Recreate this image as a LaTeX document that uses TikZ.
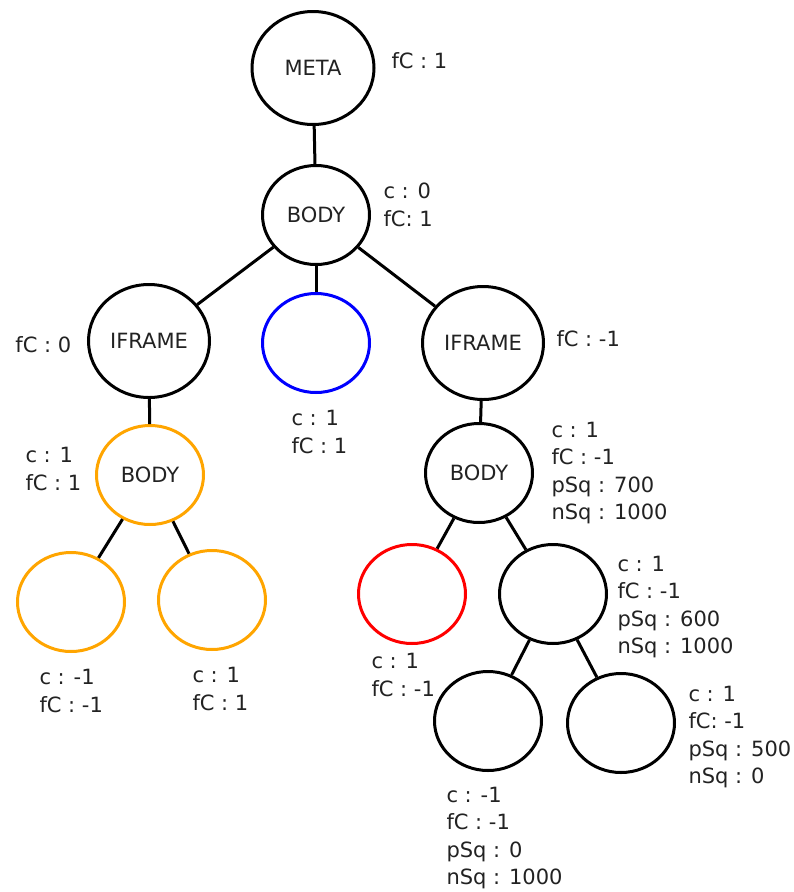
\documentclass[tikz,border=0pt]{standalone}
\usepackage{fontspec}
\setmainfont{DejaVu Sans}
\usetikzlibrary{shapes.geometric}
\definecolor{lineorange}{RGB}{255,165,0}
\definecolor{lineblue}{RGB}{0,0,255}
\definecolor{linered}{RGB}{255,0,0}
\definecolor{textgray}{RGB}{34,34,34}
\begin{document}
\begin{tikzpicture}[x=1pt,y=-1pt,line width=3pt,text=textgray,font=\fontsize{21}{27.5}\selectfont]
\useasboundingbox (0,0) rectangle (793,892);
\begin{scope}[every node/.style={ellipse,draw,inner sep=0pt,minimum width=107pt,minimum height=99pt}]
\node[minimum width=122pt,minimum height=113pt] (Meta) at (313,68) {META};
\node (Body) at (316,215) {BODY};
\node[minimum width=121pt,minimum height=113pt] (IframeL) at (149,341) {IFRAME};
\node[draw=lineblue] (Blank) at (316,343) {};
\node[minimum width=121pt,minimum height=113pt] (IframeR) at (483,343) {IFRAME};
\node[draw=lineorange] (BodyL) at (150,475) {BODY};
\node[draw=lineorange] (LeafA) at (71,602) {};
\node[draw=lineorange] (LeafB) at (212,600) {};
\node (BodyR) at (479,473) {BODY};
\node[draw=linered] (Red) at (412,594) {};
\node (Mid) at (553,594) {};
\node (LeafC) at (488,721) {};
\node (LeafD) at (621,723) {};
\end{scope}

\begin{scope}[every node/.style={align=left,anchor=west,inner sep=0pt}]
\node (MetaInfo) at (390,61) {fC : 1};
\node (BodyInfo) at (382,205) {c : 0\\fC: 1};
\node (IframeLInfo) at (14,345) {fC : 0};
\node (BlankInfo) at (290,432) {c : 1\\fC : 1};
\node (IframeRInfo) at (555,339) {fC : -1};
\node (BodyLInfo) at (24,469) {c : 1\\fC : 1};
\node (BodyRInfo) at (550,473) {c : 1\\fC : -1\\pSq : 700\\nSq : 1000};
\node (LeafAInfo) at (38,691) {c : -1\\fC : -1};
\node (LeafBInfo) at (191,689) {c : 1\\fC : 1};
\node (RedInfo) at (370,675) {c : 1\\fC : -1};
\node (MidInfo) at (616,607) {c : 1\\fC : -1\\pSq : 600\\nSq : 1000};
\node (LeafDInfo) at (687,737) {c : 1\\fC: -1\\pSq : 500\\nSq : 0};
\node (LeafCInfo) at (445,838) {c : -1\\fC : -1\\pSq : 0\\nSq : 1000};
\end{scope}

\begin{scope}[every edge/.style={draw}]
    \path (Meta) edge (Body);
    \path (Body) edge (IframeL);
    \path (Body) edge (Blank);
    \path (Body) edge (IframeR);
    \path (IframeL) edge (BodyL);
    \path (BodyL) edge (LeafA);
    \path (BodyL) edge (LeafB);
    \path (IframeR) edge (BodyR);
    \path (BodyR) edge (Red);
    \path (BodyR) edge (Mid);
    \path (Mid) edge (LeafC);
    \path (Mid) edge (LeafD);
\end{scope}
\end{tikzpicture}
\end{document}
